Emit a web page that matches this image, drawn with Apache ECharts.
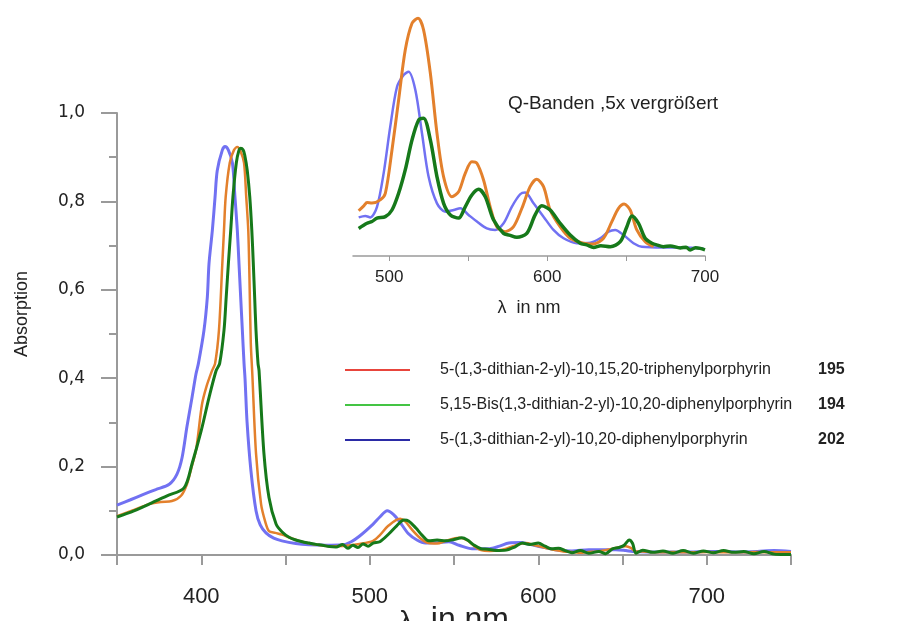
<!DOCTYPE html>
<html>
<head>
<meta charset="utf-8">
<title>Absorption</title>
<script src="https://cdn.jsdelivr.net/npm/echarts@6/dist/echarts.min.js"></script>
<style>
html, body { margin: 0; padding: 0; background: #fff; }
#main { width: 903px; height: 621px; }
</style>
</head>
<body>
<div id="main"></div>
<script>
/**
 * Daten
 */
// Legende: Namen, Nummern, Farben der Legendenlinien
var names = [
	'5-(1,3-dithian-2-yl)-10,15,20-triphenylporphyrin',
	'5,15-Bis(1,3-dithian-2-yl)-10,20-diphenylporphyrin',
	'5-(1,3-dithian-2-yl)-10,20-diphenylporphyrin'
];
var codes = [ '195', '194', '202' ];
var xTicks = [ 400, 500, 600, 700 ];
var insetTicks = [ 500, 550, 600, 650, 700 ];
var insetLabels = [ 500, 600, 700 ];

// Hauptspektrum 195 (orange)
var wl195 = [ 350, 360, 369, 376, 382.6, 388, 391.5, 394, 397, 400.4, 403, 406.4, 408.2, 410.5, 412.5, 413.5, 414.5, 416.9, 419.4, 421.4, 423.5, 425.4, 426.7, 427.9, 428.6, 429.4, 430.3, 432.5, 435.5, 438, 440.2, 444, 448, 452, 458, 466, 476, 486, 494, 502, 506, 511, 518, 521, 524.7, 530, 535, 540, 545, 553, 558, 562, 566, 571, 576, 581, 585, 592.6, 598, 604.5, 610, 615, 620, 625, 630, 635, 640, 645, 652, 655, 658, 662, 670, 680, 690, 700, 710, 720, 730, 740, 750 ];
var ab195 = [ 0.088, 0.102, 0.115, 0.120, 0.122, 0.134, 0.160, 0.195, 0.240, 0.340, 0.380, 0.417, 0.433, 0.508, 0.659, 0.735, 0.810, 0.887, 0.916, 0.923, 0.912, 0.887, 0.810, 0.735, 0.630, 0.480, 0.410, 0.230, 0.115, 0.075, 0.054, 0.050, 0.046, 0.040, 0.032, 0.025, 0.020, 0.021, 0.025, 0.032, 0.045, 0.066, 0.082, 0.076, 0.059, 0.038, 0.027, 0.026, 0.032, 0.039, 0.033, 0.020, 0.011, 0.009, 0.010, 0.014, 0.020, 0.027, 0.022, 0.016, 0.011, 0.008, 0.007, 0.005, 0.007, 0.008, 0.011, 0.015, 0.020, 0.016, 0.008, 0.008, 0.006, 0.007, 0.006, 0.007, 0.006, 0.006, 0.007, 0.006, 0.006 ];

// Hauptspektrum 194 (dunkelgruen)
var wl194 = [ 350, 360, 369, 379.7, 389.8, 394.5, 399.9, 404.6, 408.8, 410.9, 413.5, 414.8, 416.1, 417.5, 418.8, 420.8, 422.4, 423.4, 424.9, 425.8, 427.3, 428.8, 430, 430.9, 431.7, 432.5, 433.7, 434.3, 437.2, 440.2, 444.4, 448, 452.1, 456, 460, 464, 468, 472, 476, 480, 484, 487, 490, 493, 496, 499, 502, 506, 511.4, 516, 520.3, 523, 527.4, 531, 535, 540, 545, 550, 554.6, 558, 562, 566, 570, 575, 581, 586, 590.5, 595, 600, 604, 608, 612, 616, 620, 625, 630, 636, 640, 644, 648, 651, 654, 656, 658, 662, 668, 674, 680, 686, 692, 698, 704, 710, 716, 722, 728, 734, 740, 746, 750 ];
var ab194 = [ 0.086, 0.100, 0.115, 0.134, 0.152, 0.206, 0.280, 0.356, 0.417, 0.433, 0.508, 0.583, 0.659, 0.735, 0.810, 0.887, 0.916, 0.920, 0.916, 0.905, 0.870, 0.810, 0.735, 0.659, 0.583, 0.508, 0.433, 0.417, 0.230, 0.130, 0.070, 0.052, 0.040, 0.034, 0.030, 0.027, 0.024, 0.022, 0.019, 0.018, 0.024, 0.015, 0.022, 0.017, 0.025, 0.020, 0.027, 0.030, 0.048, 0.066, 0.079, 0.077, 0.061, 0.045, 0.032, 0.034, 0.032, 0.035, 0.039, 0.034, 0.022, 0.014, 0.013, 0.010, 0.011, 0.018, 0.027, 0.024, 0.027, 0.020, 0.014, 0.015, 0.010, 0.005, 0.010, 0.004, 0.008, 0.003, 0.014, 0.017, 0.022, 0.034, 0.026, 0.004, 0.011, 0.006, 0.009, 0.004, 0.010, 0.004, 0.009, 0.005, 0.010, 0.006, 0.008, 0.003, 0.008, 0.002, 0.001, 0.001 ];

// Hauptspektrum 202 (blauviolett)
var wl202 = [ 350, 358, 365, 373, 381, 385.6, 388.6, 391.5, 394.5, 396.9, 398.3, 401.6, 403.6, 404.6, 406.6, 408.2, 409.5, 412.5, 414.1, 416.1, 418.5, 420, 421.4, 422.4, 423.4, 424.4, 425.4, 426, 427.2, 429.5, 432.5, 435, 438.4, 443, 447.9, 456, 464, 474, 484, 489, 494, 502, 506, 510.4, 514, 517.4, 523, 528, 533, 540, 547, 553, 560.7, 571, 577, 582.6, 589.6, 595, 600, 610, 620, 630, 640, 646, 652, 656, 665, 680, 690, 700, 710, 720, 730, 740, 750 ];
var ab202 = [ 0.113, 0.125, 0.136, 0.148, 0.160, 0.183, 0.220, 0.290, 0.356, 0.410, 0.433, 0.508, 0.583, 0.659, 0.735, 0.810, 0.870, 0.916, 0.924, 0.916, 0.887, 0.810, 0.735, 0.659, 0.583, 0.508, 0.433, 0.398, 0.300, 0.190, 0.100, 0.068, 0.050, 0.038, 0.032, 0.026, 0.023, 0.022, 0.023, 0.030, 0.043, 0.070, 0.086, 0.100, 0.092, 0.077, 0.048, 0.034, 0.027, 0.028, 0.030, 0.022, 0.014, 0.014, 0.020, 0.027, 0.028, 0.024, 0.020, 0.012, 0.009, 0.012, 0.012, 0.012, 0.010, 0.008, 0.007, 0.007, 0.007, 0.008, 0.008, 0.007, 0.008, 0.010, 0.008 ];

// Q-Banden (Ausschnitt, 5x vergroessert, relative Einheiten)
var qwl195 = [ 480.6, 484, 485.9, 489, 494.3, 497.5, 501.7, 505.9, 510.1, 514.4, 518.2, 521.7, 526, 530.2, 534.4, 539.7, 543.9, 548.1, 552.3, 555.5, 559.7, 563.9, 568.1, 573.4, 578.7, 584, 589.2, 593.4, 597.7, 601.9, 608.2, 614.6, 623, 629.4, 635.7, 641, 645.2, 648.8, 652.6, 656.8, 662.1, 667.4 ];
var qab195 = [ 0.184, 0.205, 0.217, 0.215, 0.228, 0.255, 0.431, 0.634, 0.837, 0.946, 0.966, 0.919, 0.743, 0.499, 0.322, 0.241, 0.261, 0.336, 0.383, 0.377, 0.309, 0.200, 0.119, 0.099, 0.119, 0.194, 0.282, 0.312, 0.282, 0.187, 0.119, 0.072, 0.052, 0.049, 0.072, 0.140, 0.194, 0.211, 0.187, 0.106, 0.058, 0.038 ];

var qwl194 = [ 480.6, 485.9, 489, 492.2, 497.5, 501.7, 505.9, 510.1, 514.4, 518.6, 521.7, 526, 530.2, 534.4, 538.7, 543.9, 548.1, 552.3, 556.6, 560.8, 566, 572.4, 576, 580.8, 587.1, 592.4, 596.6, 601.9, 608.2, 614.6, 620.9, 625, 629.4, 634, 640, 646.3, 650.5, 653.7, 657.9, 662.1, 666.4, 670, 673.7, 678, 684.3, 688, 690.6, 694, 697, 700 ];
var qab194 = [ 0.112, 0.133, 0.140, 0.154, 0.160, 0.187, 0.255, 0.350, 0.472, 0.553, 0.560, 0.472, 0.322, 0.214, 0.167, 0.154, 0.200, 0.248, 0.271, 0.241, 0.147, 0.092, 0.085, 0.076, 0.092, 0.167, 0.204, 0.187, 0.133, 0.085, 0.052, 0.045, 0.035, 0.042, 0.038, 0.058, 0.119, 0.163, 0.133, 0.072, 0.052, 0.044, 0.038, 0.041, 0.033, 0.036, 0.024, 0.034, 0.031, 0.025 ];

var qwl202 = [ 480.6, 484.8, 488, 492.2, 496.4, 500.6, 504.9, 509.1, 512.2, 516.5, 520.7, 524.9, 530.2, 535.5, 540.8, 545, 550.2, 555.5, 561.8, 567.1, 572.4, 577.6, 582.9, 586.1, 591.4, 597.7, 604, 610.4, 618.8, 627.3, 633.6, 638.9, 643.1, 648.4, 654.7, 660, 673.7, 686.4, 699 ];
var qab202 = [ 0.157, 0.163, 0.157, 0.200, 0.336, 0.526, 0.688, 0.736, 0.749, 0.675, 0.499, 0.322, 0.214, 0.180, 0.187, 0.194, 0.167, 0.140, 0.112, 0.106, 0.133, 0.200, 0.251, 0.258, 0.214, 0.160, 0.106, 0.072, 0.052, 0.054, 0.072, 0.099, 0.106, 0.085, 0.052, 0.038, 0.035, 0.035, 0.031 ];

/**
 * Hilfsfunktionen
 */
// zwei Listen zu [x, y]-Paaren
function pairs(xs, ys) {
	var out = [];
	for (var i = 0; i < xs.length; i++) {
		out.push([ xs[i], ys[i] ]);
	}
	return out;
}

var curveColors = [ '#e3802c', '#16791a', '#7171f2' ];
var legendColors = [ '#e8453c', '#44c444', '#2b2ba6' ];
var axisGrey = '#9a9a9a';
var textDark = '#222';

// Linienserie fuer Haupt- (grid 0) oder Ausschnittdiagramm (grid 1)
function makeSeries(i, wl, ab, width, idx) {
	return {
		name : names[i],
		type : 'line',
		xAxisIndex : idx,
		yAxisIndex : idx,
		data : pairs(wl, ab),
		showSymbol : false,
		smooth : 0.3,
		lineStyle : { color : curveColors[i], width : width },
		itemStyle : { color : curveColors[i] },
		z : i == 2 ? 2 : 3
	};
}

/**
 * Diagramm
 */
var chart = echarts.init(document.getElementById('main'));

var option = {
	animation : false,
	backgroundColor : '#fff',
	title : {
		text : 'Q-Banden ,5x vergrößert',
		left : 503,
		top : 89,
		textStyle : { fontFamily : 'Liberation Sans', fontSize : 19, fontWeight : 'normal', color : textDark }
	},
	legend : {
		orient : 'vertical',
		left : 340,
		top : 357,
		itemWidth : 65,
		itemHeight : 2,
		itemGap : 19,
		icon : 'rect',
		selectedMode : false,
		data : names.map(function(n, i) {
			return { name : n, itemStyle : { color : legendColors[i] } };
		}),
		formatter : function(name) {
			var i = names.indexOf(name);
			return '{n|' + name + '}{c|' + codes[i] + '}';
		},
		textStyle : {
			padding : [ 0, 0, 0, 25 ],
			rich : {
				n : { width : 378, fontFamily : 'Liberation Sans', fontSize : 16, color : textDark, lineHeight : 17 },
				c : { fontFamily : 'Liberation Sans', fontSize : 16, fontWeight : 'bold', color : textDark, lineHeight : 17 }
			}
		}
	},
	grid : [
		{ left : 117, right : 112, top : 113, bottom : 66, outerBoundsMode : 'none', containLabel : false },
		{ left : 353, right : 198, top : 10, bottom : 365, outerBoundsMode : 'none', containLabel : false }
	],
	xAxis : [ {
		type : 'value',
		gridIndex : 0,
		min : 350,
		max : 750,
		interval : 50,
		name : '{l|λ}{t|  in nm}',
		nameLocation : 'middle',
		nameGap : 49,
		nameMoveOverlap : false,
		nameTextStyle : {
			color : textDark,
			rich : {
				l : { fontFamily : 'Liberation Sans', fontSize : 28, color : textDark, verticalAlign : 'bottom' },
				t : { fontFamily : 'Liberation Sans', fontSize : 32, color : textDark, verticalAlign : 'bottom' }
			}
		},
		axisLine : { show : true, lineStyle : { color : axisGrey, width : 2 } },
		axisTick : { show : true, length : 10, lineStyle : { color : axisGrey, width : 2 } },
		axisLabel : {
			margin : 31,
			fontFamily : 'Liberation Sans',
			fontSize : 22,
			color : textDark,
			formatter : function(v) {
				return xTicks.indexOf(v) >= 0 ? String(v) : '';
			}
		},
		splitLine : { show : false }
	}, {
		type : 'value',
		gridIndex : 1,
		min : 477,
		max : 700,
		name : 'λ  in nm',
		nameLocation : 'middle',
		nameGap : 43,
		nameMoveOverlap : false,
		nameTextStyle : { fontFamily : 'Liberation Sans', fontSize : 18, color : textDark },
		axisLine : { show : true, onZero : false, lineStyle : { color : axisGrey, width : 1.5 } },
		axisTick : { show : true, length : 5, customValues : insetTicks, lineStyle : { color : axisGrey } },
		axisLabel : {
			margin : 13,
			fontFamily : 'Liberation Sans',
			fontSize : 17,
			color : textDark,
			customValues : insetLabels
		},
		splitLine : { show : false }
	} ],
	yAxis : [ {
		type : 'value',
		gridIndex : 0,
		min : 0,
		max : 1,
		interval : 0.2,
		name : 'Absorption',
		nameLocation : 'middle',
		nameRotate : 90,
		nameGap : 86,
		nameMoveOverlap : false,
		nameTextStyle : { fontFamily : 'Liberation Sans', fontSize : 18, color : textDark, padding : [ 0, 0, 0, 40 ] },
		axisLine : { show : true, lineStyle : { color : axisGrey, width : 2 } },
		axisTick : { show : true, length : 16, lineStyle : { color : axisGrey, width : 2 } },
		minorTick : { show : true, splitNumber : 2, length : 8, lineStyle : { color : axisGrey, width : 2 } },
		axisLabel : {
			margin : 32,
			fontFamily : 'DejaVu Sans',
			fontSize : 17,
			color : textDark,
			formatter : function(v) {
				return v.toFixed(1).replace('.', ',');
			}
		},
		splitLine : { show : false }
	}, {
		type : 'value',
		gridIndex : 1,
		min : 0,
		max : 1,
		show : false
	} ],
	series : [
		makeSeries(2, wl202, ab202, 3, 0),
		makeSeries(0, wl195, ab195, 2.5, 0),
		makeSeries(1, wl194, ab194, 3, 0),
		makeSeries(2, qwl202, qab202, 2.5, 1),
		makeSeries(0, qwl195, qab195, 3, 1),
		makeSeries(1, qwl194, qab194, 3.5, 1)
	]
};

chart.setOption(option);
</script>
</body>
</html>
